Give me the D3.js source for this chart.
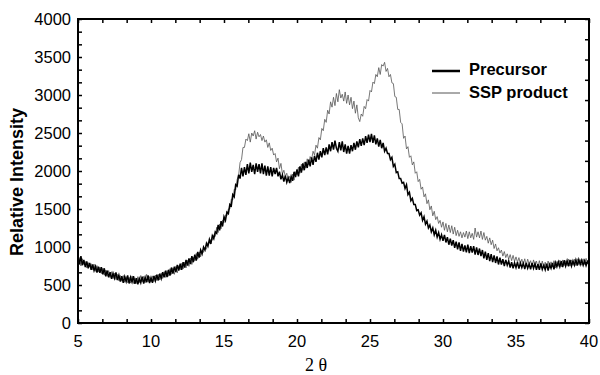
<!DOCTYPE html>
<html>
<head>
<meta charset="utf-8">
<script src="https://cdn.jsdelivr.net/npm/d3@7"></script>
<style>
  html, body { margin: 0; padding: 0; background: #fff; }
  svg { display: block; }
</style>
</head>
<body>
<svg id="chart" width="600" height="375"></svg>
<script>
// ---- data ----
const twoThetaStart = 5;
const twoThetaStep = 0.1;
const xTickValues = [5, 10, 15, 20, 25, 30, 35, 40];
const yTickValues = [0, 500, 1000, 1500, 2000, 2500, 3000, 3500, 4000];
const seriesNames = ["Precursor", "SSP product"];

const precursor = [
  850,770,880,760,830, 735,810,720,790,700, 770,690,745,665,740, 660,735,640,720,615,
  690,600,670,580,655, 590,665,565,630,545, 615,530,610,545,625, 520,600,540,615,515,
  590,510,585,530,610, 520,600,535,625,525, 595,530,620,555,635, 560,650,585,670,600,
  690,605,700,625,730, 650,740,670,765,690, 780,700,800,730,830, 755,850,775,880,800,
  900,820,935,860,960, 910,1000,960,1050,1010, 1100,1040,1150,1110,1200, 1180,1290,1220,1340,1270,
  1400,1350,1460,1440,1560, 1540,1690,1660,1820,1800, 1950,1900,2040,1930,2050, 1950,2090,1970,2110,1990,
  2080,1960,2100,1990,2090, 1970,2100,1960,2070,1940, 2060,1940,2050,1930,2040, 1960,2040,1930,1990,1890,
  1950,1860,1940,1850,1910, 1840,1930,1870,1990,1920, 2020,1930,2060,1980,2100, 2010,2120,2040,2150,2060,
  2180,2080,2200,2120,2240, 2150,2260,2180,2300,2210, 2310,2220,2350,2260,2380, 2280,2400,2300,2260,2380,
  2270,2390,2250,2350,2230, 2330,2230,2340,2260,2370, 2280,2390,2310,2420,2330, 2430,2340,2460,2370,2480,
  2380,2490,2370,2470,2350, 2430,2320,2410,2300,2370, 2260,2300,2230,2230,2150, 2180,2060,2090,1980,1990,
  1900,1900,1840,1850,1770, 1820,1690,1720,1610,1640, 1560,1560,1480,1490,1420, 1450,1350,1400,1300,1340,
  1250,1290,1200,1250,1160, 1220,1130,1190,1100,1160, 1080,1160,1060,1130,1030, 1110,1020,1090,990,1070,
  970,1060,950,1040,940, 1020,930,1030,920,1010, 925,1010,900,995,895, 980,880,960,850,940,
  830,920,815,905,800, 890,790,875,770,860, 770,840,750,830,760, 815,730,800,720,790,
  730,800,715,790,730, 785,710,790,720,775, 705,790,720,780,700, 775,700,785,705,760,
  700,780,690,770,720, 790,705,795,740,805, 740,815,735,825,750, 820,745,830,750,815,
  760,830,755,835,770, 825,760,820,755,810, 780
];

const sspProduct = [
  790,860,750,845,770, 810,725,795,745,780, 700,775,680,755,670, 735,650,720,630,695,
  615,690,600,675,585, 655,570,640,555,625, 550,625,535,610,530, 600,525,620,520,595,
  520,610,530,625,540, 615,530,640,540,610, 540,620,545,630,560, 640,565,655,585,675,
  600,690,615,715,640, 725,640,745,660,755, 700,785,710,800,725, 825,745,855,770,865,
  820,915,840,935,870, 960,930,990,970,1060, 1050,1100,1090,1160,1140, 1260,1190,1300,1240,1350,
  1320,1420,1410,1500,1500, 1630,1620,1760,1750,1890, 1940,2110,2150,2310,2310, 2420,2400,2490,2380,2500,
  2460,2530,2420,2510,2450, 2480,2400,2460,2380,2410, 2310,2370,2270,2300,2210, 2230,2120,2170,2030,2100,
  1960,2010,1930,1970,1880, 1930,1850,1960,1880,1990, 1950,2050,1970,2090,2010, 2120,2040,2160,2080,2190,
  2150,2260,2210,2340,2300, 2440,2410,2560,2530,2680, 2640,2800,2750,2910,2840, 2970,2860,3020,2910,3070,
  2960,3010,2920,3040,2890, 3000,2870,2970,2820,2920, 2760,2870,2700,2650,2750, 2720,2850,2820,2940,2920,
  3060,3040,3170,3150,3270, 3240,3360,3270,3400,3380, 3430,3310,3350,3240,3270, 3160,3150,2980,2970,2810,
  2810,2640,2620,2430,2460, 2290,2320,2180,2200,2080, 2120,1970,1990,1860,1890, 1760,1790,1660,1700,1570,
  1620,1490,1540,1410,1470, 1360,1400,1310,1350,1260, 1330,1220,1310,1200,1290, 1190,1280,1170,1260,1150,
  1220,1140,1200,1120,1190, 1130,1210,1110,1200,1120, 1180,1100,1250,1130,1200, 1120,1210,1100,1190,1090,
  1140,1050,1120,1030,1090, 980,1040,950,990,920, 960,880,940,860,910, 840,900,820,890,810,
  870,800,860,780,840, 770,845,760,840,770, 820,740,830,745,815, 740,820,730,815,725,
  800,725,815,730,805, 735,820,725,810,745, 825,740,830,755,820, 755,840,750,830,760,
  840,755,845,770,835, 760,845,770,850,780, 830
];

// ---- layout ----
const svg = d3.select("#chart");
const mLeft = 78, mRight = 589, mTop = 19, mBottom = 323;

const x = d3.scaleLinear().domain([5, 40]).range([mLeft, mRight]);
const y = d3.scaleLinear().domain([0, 4000]).range([mBottom, mTop]);

const toPoints = arr => arr.map((v, i) => [twoThetaStart + i * twoThetaStep, v]);
const line = d3.line().x(d => x(d[0])).y(d => y(d[1]));

const plot = svg.append("g");
plot.append("path")
  .datum(toPoints(sspProduct))
  .attr("fill", "none").attr("stroke", "#555").attr("stroke-width", 0.8)
  .attr("d", line);
plot.append("path")
  .datum(toPoints(precursor))
  .attr("fill", "none").attr("stroke", "#000").attr("stroke-width", 1.5)
  .attr("d", line);

// tick positions (inward ticks on all four sides)
const xTickAll = d3.range(0, 22).map(i => 5 + i * 35 / 21);
const yTickAll = d3.range(0, 25).map(i => i * 4000 / 24);
const yRightTicks = d3.range(0, 16).map(i => i * 4000 / 15);

const bottomAxis = d3.axisBottom(x).tickValues(xTickAll).tickSize(-4).tickFormat("");
const topAxis = d3.axisTop(x).tickValues(xTickAll).tickSize(-4).tickFormat("");
const leftAxis = d3.axisLeft(y).tickValues(yTickAll).tickSize(-4).tickFormat("");
const rightAxis = d3.axisRight(y).tickValues(yRightTicks).tickSize(-4).tickFormat("");

function styleAxis(g) {
  g.select(".domain").remove();
  g.selectAll(".tick line").attr("stroke", "#000").attr("stroke-width", 1.5);
}
svg.append("g").attr("transform", `translate(0,${mBottom})`).call(bottomAxis).call(styleAxis);
svg.append("g").attr("transform", `translate(0,${mTop})`).call(topAxis).call(styleAxis);
svg.append("g").attr("transform", `translate(${mLeft},0)`).call(leftAxis).call(styleAxis);
svg.append("g").attr("transform", `translate(${mRight},0)`).call(rightAxis).call(styleAxis);

// frame
svg.append("rect")
  .attr("x", mLeft).attr("y", mTop).attr("width", mRight - mLeft).attr("height", mBottom - mTop)
  .attr("fill", "none").attr("stroke", "#000").attr("stroke-width", 2);

// tick labels
svg.append("g").selectAll("text").data(xTickValues).join("text")
  .attr("x", d => x(d)).attr("y", 347)
  .attr("text-anchor", "middle")
  .attr("font-family", "Liberation Sans, Arial, sans-serif").attr("font-size", 16.5)
  .text(d => d);
svg.append("g").selectAll("text").data(yTickValues).join("text")
  .attr("x", 71).attr("y", d => y(d))
  .attr("dy", "0.36em")
  .attr("text-anchor", "end")
  .attr("font-family", "Liberation Sans, Arial, sans-serif").attr("font-size", 16.5)
  .text(d => d);

// axis titles
svg.append("text")
  .attr("transform", "translate(23,182) rotate(-90)")
  .attr("text-anchor", "middle")
  .attr("font-family", "Liberation Sans, Arial, sans-serif").attr("font-weight", "bold").attr("font-size", 18)
  .text("Relative Intensity");
svg.append("text")
  .attr("x", 316).attr("y", 371)
  .attr("text-anchor", "middle")
  .attr("font-family", "Liberation Serif, Times New Roman, serif").attr("font-size", 18)
  .text("2 θ");

// legend
const legend = svg.append("g");
const legendRows = [
  { name: seriesNames[0], ly: 71, ty: 75, sw: 2.5, col: "#000" },
  { name: seriesNames[1], ly: 93, ty: 98, sw: 1, col: "#555" }
];
legendRows.forEach(r => {
  legend.append("line").attr("x1", 432).attr("x2", 460).attr("y1", r.ly).attr("y2", r.ly)
    .attr("stroke", r.col).attr("stroke-width", r.sw);
  legend.append("text").attr("x", 469).attr("y", r.ty)
    .attr("font-family", "Liberation Sans, Arial, sans-serif").attr("font-weight", "bold").attr("font-size", 16.5)
    .text(r.name);
});
</script>
</body>
</html>
